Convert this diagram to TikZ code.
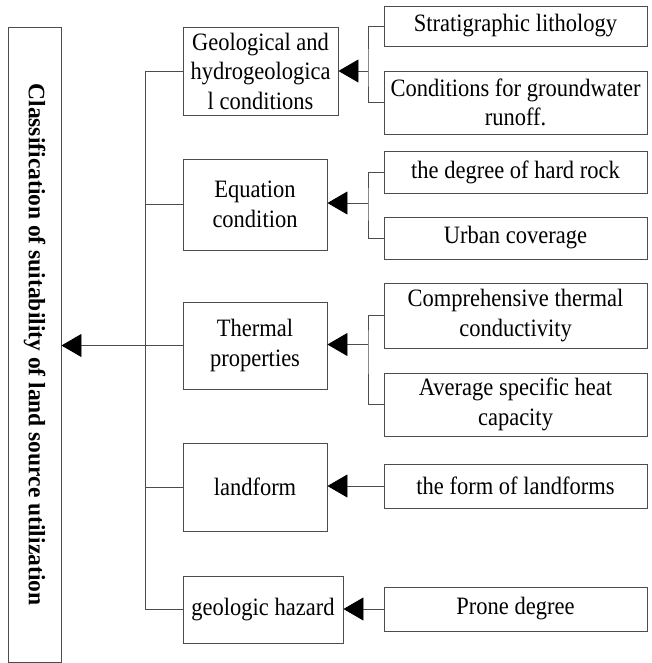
\documentclass[tikz,border=0pt]{standalone}
\usepackage{fontspec}
\setmainfont{Liberation Serif}
\newfontfamily\boxfont{Liberation Serif}[FakeStretch=0.9]
\usetikzlibrary{arrows.meta,positioning}

\tikzset{
    box/.style={draw=black!70, line width=0.9pt, align=center, inner sep=1pt,
        font=\boxfont\fontsize{25}{29.5}\selectfont},
    link/.style={draw=black!70, line width=0.9pt},
    pointer/.style={link, -{Triangle[length=20pt,width=23pt,color=black]}},
}

\begin{document}
\begin{tikzpicture}[x=1pt,y=-1pt]
        \useasboundingbox (0,0) rectangle (651,663);
        % root
        \node[box, minimum width=53pt, minimum height=635pt] (root) at (34.5,344.5)
            {\rotatebox{-90}{\rmfamily\bfseries\fontsize{23.5}{27}\selectfont Classification of suitability of land source utilization}};

        % factors
        \node[box, minimum width=155pt, minimum height=88pt] (geo) at (260.5,71)   {Geological and\\hydrogeologica\\l conditions};
        \node[box, minimum width=144pt, minimum height=91pt] (eq)  at (255,204.5)  {Equation\\condition};
        \node[box, minimum width=144pt, minimum height=87pt] (th)  at (255,345.5)  {Thermal\\properties};
        \node[box, minimum width=144pt, minimum height=88pt] (lf)  at (255,487)    {landform};
        \node[box, minimum width=160pt, minimum height=67pt] (hz)  at (263,609.5)  {geologic hazard};

        % indicators
        \node[box, minimum width=263pt, minimum height=40pt] (s1) at (515.5,26)    {Stratigraphic lithology};
        \node[box, minimum width=263pt, minimum height=63pt] (s2) at (515.5,102.5) {Conditions for groundwater\\runoff.};
        \node[box, minimum width=263pt, minimum height=42pt] (e1) at (515.5,172)   {the degree of hard rock};
        \node[box, minimum width=263pt, minimum height=42pt] (e2) at (515.5,238)   {Urban coverage};
        \node[box, minimum width=263pt, minimum height=65pt] (t1) at (515.5,315.5) {Comprehensive thermal\\conductivity};
        \node[box, minimum width=263pt, minimum height=63pt] (t2) at (515.5,404.5) {Average specific heat\\capacity};
        \node[box, minimum width=263pt, minimum height=44pt] (l1) at (515.5,486)   {the form of landforms};
        \node[box, minimum width=263pt, minimum height=44pt] (h1) at (515.5,609)   {Prone degree};

        % trunk to root
        \coordinate (trunk) at (145,344.5);
        \draw[link] (geo.west) -- (geo.west -| trunk) |- (hz.west);
        \draw[link] (eq.west) -- (eq.west -| trunk);
        \draw[link] (lf.west) -- (lf.west -| trunk);
        \draw[pointer] (th.west) -- (th.west -| root.east);

        % indicators to factors
        \coordinate (geoj) at (368,71);
        \coordinate (eqj)  at (368,203);
        \coordinate (thj)  at (368,344.5);
        \draw[link] (s1.west) -| (geoj) |- (s2.west);
        \draw[pointer] (geoj) -- (geoj -| geo.east);
        \draw[link] (e1.west) -| (eqj) |- (e2.west);
        \draw[pointer] (eqj) -- (eqj -| eq.east);
        \draw[link] (t1.west) -| (thj) |- (t2.west);
        \draw[pointer] (thj) -- (thj -| th.east);
        \draw[pointer] (l1.west) -- (l1.west -| lf.east);
        \draw[pointer] (h1.west) -- (h1.west -| hz.east);
\end{tikzpicture}
\end{document}
